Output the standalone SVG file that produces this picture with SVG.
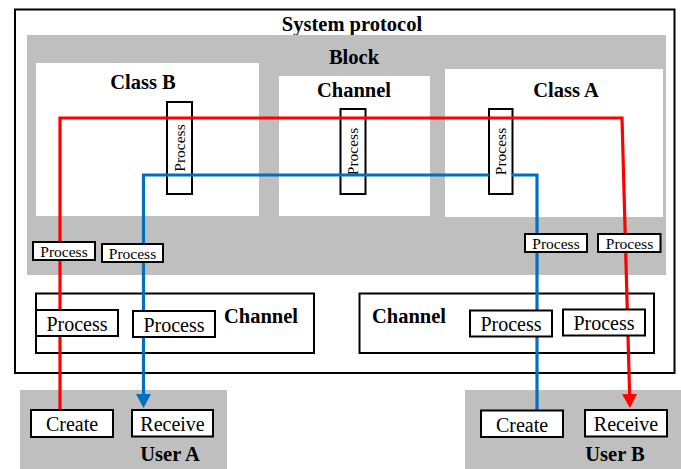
<svg xmlns="http://www.w3.org/2000/svg" width="681" height="469" viewBox="0 0 681 469">
<defs>
<style>
.bg{fill:#FFFFFF}
.gray{fill:#BFBFBF;stroke:none}
.white{fill:#FFFFFF;stroke:none}
.box{fill:#FFFFFF;stroke:#000000;stroke-width:2}
.frame{fill:none;stroke:#000000;stroke-width:2}
.t{font-family:"Liberation Serif","Times New Roman",serif;fill:#000000;text-anchor:middle}
.b{font-weight:bold;font-size:20.5px}
.r{font-size:20px}
.s{font-size:15.5px}
.red{fill:none;stroke:#FF0000;stroke-width:3.2}
.blue{fill:none;stroke:#0070C0;stroke-width:3.2}
</style>
<marker id="ar" markerUnits="userSpaceOnUse" markerWidth="15" markerHeight="15" refX="0" refY="7.5" orient="auto"><path d="M0,0 L14,7.5 L0,15 z" fill="#FF0000"/></marker>
<marker id="ab" markerUnits="userSpaceOnUse" markerWidth="15" markerHeight="15" refX="0" refY="7.5" orient="auto"><path d="M0,0 L14,7.5 L0,15 z" fill="#0070C0"/></marker>
</defs>
<rect class="bg" x="0" y="0" width="681" height="469"/>
<g id="system-protocol">
<rect class="frame" x="15" y="9.5" width="659.5" height="363.5"/>
<text class="t b" x="352" y="31">System protocol</text>
</g>
<g id="block">
<rect class="gray" x="27" y="35" width="639" height="240"/>
<text class="t b" x="354" y="64">Block</text>
</g>
<g id="class-b">
<rect class="white" x="36" y="63" width="223" height="153"/>
<text class="t b" x="143" y="89">Class B</text>
</g>
<g id="channel-mid">
<rect class="white" x="279" y="76" width="151" height="140"/>
<text class="t b" x="354" y="97">Channel</text>
</g>
<g id="class-a">
<rect class="white" x="445" y="69" width="218" height="148"/>
<text class="t b" x="566" y="97">Class A</text>
</g>
<g id="process-class-b">
<rect class="box" x="167" y="102" width="25" height="92"/>
<text class="t s" transform="translate(184.5,148) rotate(-90)">Process</text>
</g>
<g id="process-channel-mid">
<rect class="box" x="340.5" y="109" width="25" height="85"/>
<text class="t s" transform="translate(358,151.5) rotate(-90)">Process</text>
</g>
<g id="process-class-a">
<rect class="box" x="489" y="109" width="23.5" height="85"/>
<text class="t s" transform="translate(506,151.5) rotate(-90)">Process</text>
</g>
<g id="channel-left">
<rect class="frame" x="36" y="293.5" width="278" height="59.5"/>
<text class="t b" x="261" y="323">Channel</text>
</g>
<g id="channel-right">
<rect class="frame" x="359.5" y="293.5" width="294.5" height="59.5"/>
<text class="t b" x="409" y="323">Channel</text>
</g>
<g id="user-a">
<rect class="gray" x="20" y="390" width="207" height="79"/>
<text class="t b" x="170" y="461">User A</text>
</g>
<g id="user-b">
<rect class="gray" x="465" y="390" width="216" height="79"/>
<text class="t b" x="615" y="461">User B</text>
</g>
<g id="connectors">
<path class="blue" d="M537,410 V175 H512 M489,175 H143.5 V394" marker-end="url(#ab)"/>
<path class="red" d="M60,410 V118 H622 L629.6,394" marker-end="url(#ar)"/>
</g>
<g id="process-gray-1">
<rect class="box" x="33" y="242" width="62" height="18"/>
<text class="t s" x="64" y="256.5">Process</text>
</g>
<g id="process-gray-2">
<rect class="box" x="102" y="244" width="61" height="18"/>
<text class="t s" x="132.5" y="258.5">Process</text>
</g>
<g id="process-gray-3">
<rect class="box" x="525" y="234" width="62" height="18"/>
<text class="t s" x="556" y="248.5">Process</text>
</g>
<g id="process-gray-4">
<rect class="box" x="598" y="234" width="62.5" height="18"/>
<text class="t s" x="629.5" y="248.5">Process</text>
</g>
<g id="process-lower-1">
<rect class="box" x="36" y="310" width="82" height="26"/>
<text class="t r" x="77" y="330.5">Process</text>
</g>
<g id="process-lower-2">
<rect class="box" x="133" y="311" width="82" height="26"/>
<text class="t r" x="174" y="331.5">Process</text>
</g>
<g id="process-lower-3">
<rect class="box" x="470" y="310.5" width="82" height="26"/>
<text class="t r" x="511" y="331">Process</text>
</g>
<g id="process-lower-4">
<rect class="box" x="563" y="309.5" width="82" height="26"/>
<text class="t r" x="604" y="330">Process</text>
</g>
<g id="create-a">
<rect class="box" x="31" y="410" width="82" height="27"/>
<text class="t r" x="72" y="431">Create</text>
</g>
<g id="receive-a">
<rect class="box" x="132" y="410" width="81" height="26.5"/>
<text class="t r" x="172.5" y="431">Receive</text>
</g>
<g id="create-b">
<rect class="box" x="481" y="410.5" width="82" height="26.5"/>
<text class="t r" x="522" y="431.5">Create</text>
</g>
<g id="receive-b">
<rect class="box" x="585" y="410" width="82" height="26.5"/>
<text class="t r" x="626" y="431">Receive</text>
</g>
</svg>
